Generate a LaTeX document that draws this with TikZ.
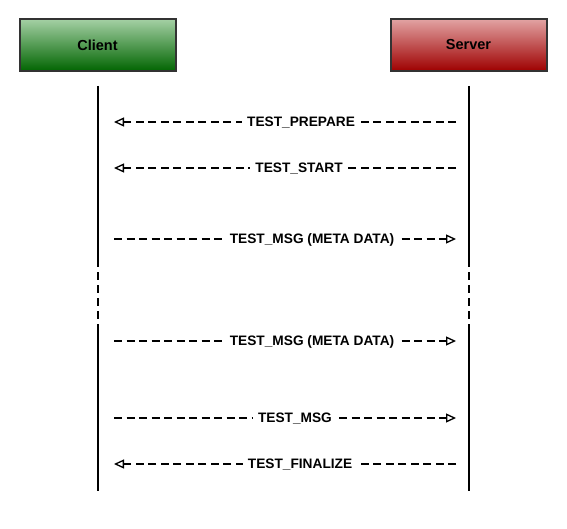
\documentclass[tikz,border=0pt]{standalone}
\usepackage{fontspec}
\setmainfont{Liberation Sans}
\usetikzlibrary{arrows.meta}
\definecolor{bordergray}{HTML}{333333}
\definecolor{greentop}{HTML}{A3CFA3}
\definecolor{greenbot}{HTML}{006400}
\definecolor{redtop}{HTML}{E2A3A3}
\definecolor{redbot}{HTML}{9E0000}
\tikzset{
  actor/.style={draw=bordergray, line width=2pt, minimum width=156pt, minimum height=52pt,
    font=\fontsize{14.5}{16}\selectfont\bfseries, inner sep=0pt},
  life/.style={line width=2pt, black},
  lifebreak/.style={line width=2pt, black, dash pattern=on 8pt off 5pt},
  msg/.style={line width=1.3pt, dash pattern=on 8pt off 4.5pt, -{Triangle[open,length=10pt,width=9pt,fill=white]}},
  lbl/.style={fill=white, inner xsep=5pt, inner ysep=1pt, text depth=0pt, font=\fontsize{13.7}{15}\selectfont\bfseries}
}
\begin{document}
\begin{tikzpicture}[x=1pt,y=-1pt]
\useasboundingbox (0,0) rectangle (567,529);
\node[actor, top color=greentop, bottom color=greenbot] (client) at (97.5,45.5) {Client};
\node[actor, top color=redtop, bottom color=redbot] (server) at (468.5,45) {Server};
% lifelines
\coordinate (c0) at (98,86);
\coordinate (c1) at (98,259);
\coordinate (c2) at (98,326);
\coordinate (c3) at (98,491);
\coordinate (s0) at (469,86);
\coordinate (s1) at (469,259);
\coordinate (s2) at (469,326);
\coordinate (s3) at (469,491);
\draw[life] (c0) -- (c1);
\draw[lifebreak] (c1) -- (c2);
\draw[life] (c2) -- (c3);
\draw[life] (s0) -- (s1);
\draw[lifebreak] (s1) -- (s2);
\draw[life] (s2) -- (s3);
% message endpoints
\foreach \n/\y in {1/122,2/168,3/239,4/341,5/418,6/464}{
  \coordinate (mc\n) at (114,\y);
  \coordinate (ms\n) at (456,\y);
}
\draw[msg] (ms1) -- node[lbl, pos=0.453] (l1) {TEST\_PREPARE} (mc1);
\draw[msg] (ms2) -- node[lbl, pos=0.459] (l2) {TEST\_START} (mc2);
\draw[msg] (mc3) -- node[lbl, pos=0.579] (l3) {TEST\_MSG (META DATA)} (ms3);
\draw[msg] (mc4) -- node[lbl, pos=0.579] (l4) {TEST\_MSG (META DATA)} (ms4);
\draw[msg] (mc5) -- node[lbl, pos=0.529] (l5) {TEST\_MSG} (ms5);
\draw[msg] (ms6) -- node[lbl, pos=0.456] (l6) {TEST\_FINALIZE} (mc6);
\end{tikzpicture}
\end{document}
